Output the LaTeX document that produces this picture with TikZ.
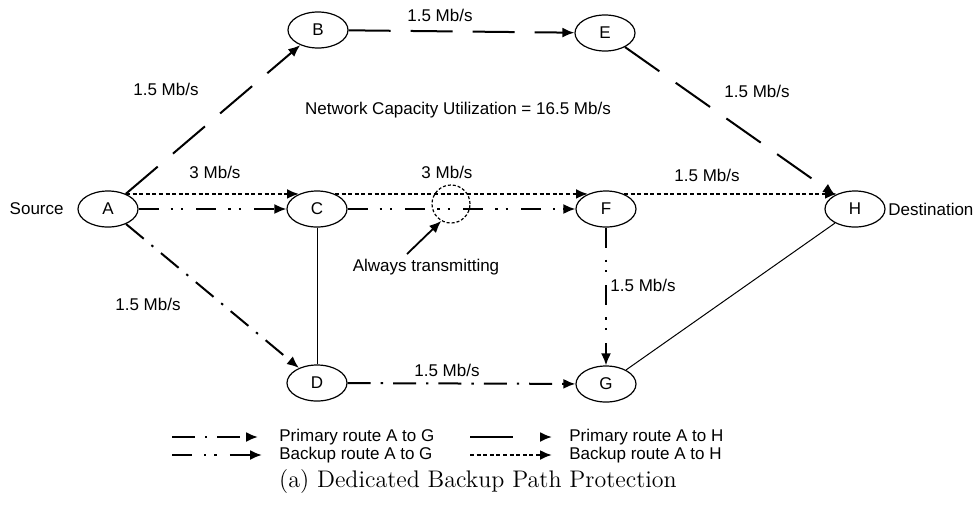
\documentclass[tikz,border=0pt]{standalone}
\usepackage{fontspec}
\newfontfamily\arial{Liberation Sans}
\usetikzlibrary{arrows.meta,shapes.geometric}
\begin{document}
\begin{tikzpicture}[x=0.5pt,y=-0.5pt,
  nd/.style={ellipse,draw,line width=0.6pt,fill=white,minimum width=30pt,minimum height=18pt,inner sep=0pt,font=\arial\fontsize{8.5}{10}\selectfont},
  lbl/.style={font=\arial\fontsize{8.5}{10}\selectfont,inner sep=1pt},
  tip/.style={-{Latex[length=6pt,width=5pt]}},
  primH/.style={tip,line width=1pt,dash pattern=on 21pt off 10pt},
  primG/.style={tip,line width=1pt,dash pattern=on 11.5pt off 5pt on 1.2pt off 5pt},
  backG/.style={tip,line width=1pt,dash pattern=on 10pt off 6pt on 1.2pt off 4pt on 1.2pt off 6.5pt},
  backH/.style={tip,line width=1.1pt,dash pattern=on 2pt off 1.3pt},
  link/.style={line width=0.5pt},
  ring/.style={circle,draw,line width=0.6pt,dash pattern=on 1.5pt off 1pt,minimum size=19pt,inner sep=0pt}]
\useasboundingbox (0,0) rectangle (973,505);
% nodes
\node[nd] (A) at (108,209) {A};
\node[nd] (B) at (318,30) {B};
\node[nd] (C) at (317,209) {C};
\node[nd] (D) at (317,383) {D};
\node[nd] (E) at (605,33) {E};
\node[nd] (F) at (606,209) {F};
\node[nd] (G) at (606,384) {G};
\node[nd] (H) at (855,209) {H};
\node[lbl,anchor=east] (src) at (66,209) {Source};
\node[lbl,anchor=west] (dst) at (886,209) {Destination};
% primary A to H
\draw[primH] (A) -- (B);
\draw[primH] (B) -- (E);
\draw[primH] (E) -- (H);
% backup A to H
\draw[backH] (A.40) -- (C.140);
\draw[backH] (C.40) -- (F.140);
\draw[backH] (F.40) -- (H.140);
% backup A to G
\draw[backG] (A.east) -- (C.west);
\draw[backG] (C.east) -- (F.west);
\draw[backG] (F.south) -- (G.north);
% primary A to G
\draw[primG] (A) -- (D);
\draw[primG] (D) -- (G);
% links
\draw[link] (C.south) -- (D.north);
\draw[link] (G) -- (H);
% always transmitting
\node[ring] (tx) at (451,204) {};
\node[lbl] (always) at (426,267) {Always transmitting};
\coordinate (as) at (407,254);
\draw[tip,line width=0.9pt] (as) -- (tx.240);
% labels
\node[lbl] (lab) at (166,89) {1.5 Mb/s};
\node[lbl] (lbe) at (440,15) {1.5 Mb/s};
\node[lbl] (leh) at (757,91) {1.5 Mb/s};
\node[lbl] (net) at (458,110) {Network Capacity Utilization = 16.5 Mb/s};
\node[lbl] (lac) at (215,172) {3 Mb/s};
\node[lbl] (lcf) at (447,172) {3 Mb/s};
\node[lbl] (lfh) at (707,175) {1.5 Mb/s};
\node[lbl] (lfg) at (643,285) {1.5 Mb/s};
\node[lbl] (lad) at (148,304) {1.5 Mb/s};
\node[lbl] (ldg) at (447,370) {1.5 Mb/s};
% legend
\coordinate (l1s) at (172,437); \coordinate (l1e) at (258,437);
\coordinate (l2s) at (172,455); \coordinate (l2e) at (262,455);
\coordinate (l3s) at (470,437); \coordinate (l3e) at (552,437);
\coordinate (l4s) at (470,455); \coordinate (l4e) at (552,455);
\draw[primG] (l1s) -- (l1e);
\draw[backG] (l2s) -- (l2e);
\draw[primH,dash pattern=on 21.5pt off 40pt] (l3s) -- (l3e);
\draw[backH] (l4s) -- (l4e);
\node[lbl,anchor=west] (t1) at (277,437) {Primary route A to G};
\node[lbl,anchor=west] (t2) at (277,455) {Backup route A to G};
\node[lbl,anchor=west] (t3) at (567,437) {Primary route A to H};
\node[lbl,anchor=west] (t4) at (567,455) {Backup route A to H};
% caption
\node[font=\fontsize{12}{14}\selectfont,inner sep=0pt] (cap) at (478,481) {(a) Dedicated Backup Path Protection};
\end{tikzpicture}
\end{document}
